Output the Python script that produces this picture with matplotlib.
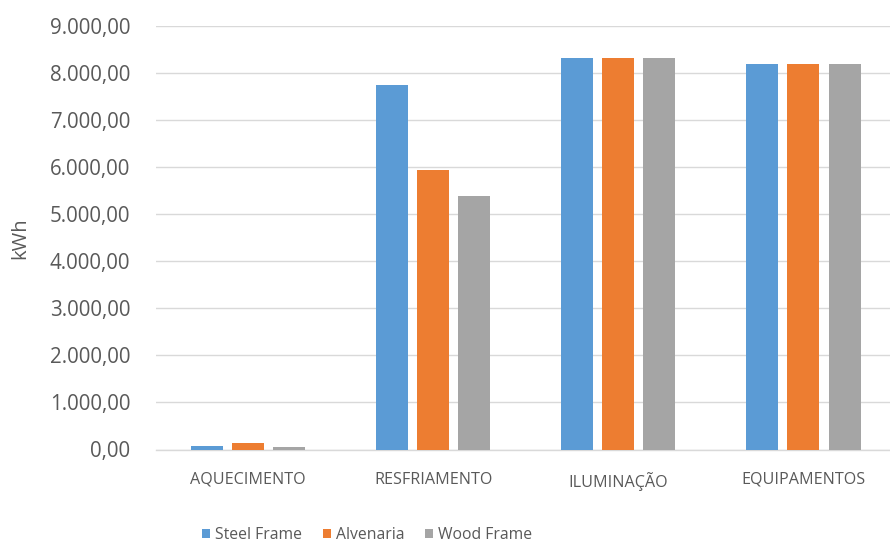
import matplotlib
matplotlib.use("Agg")
import matplotlib.pyplot as plt
import numpy as np
from matplotlib.ticker import FuncFormatter

categories = ["AQUECIMENTO", "RESFRIAMENTO", "ILUMINAÇÃO", "EQUIPAMENTOS"]
series_names = ["Steel Frame", "Alvenaria", "Wood Frame"]
steel_frame = [80, 7750, 8310, 8190]
alvenaria = [130, 5940, 8310, 8190]
wood_frame = [50, 5380, 8310, 8190]
colors = ["#5B9BD5", "#ED7D31", "#A5A5A5"]
y_ticks = [0, 1000, 2000, 3000, 4000, 5000, 6000, 7000, 8000, 9000]

plt.rcParams['font.family'] = ['Open Sans', 'DejaVu Sans']
txt = "#595959"

W, H = 890, 542
fig = plt.figure(figsize=(W / 100, H / 100), dpi=100)
left_px, right_px = 155.5, 896
top_px, bot_px = 25.7, 449.5
ax = fig.add_axes([left_px / W, 1 - bot_px / H, (right_px - left_px) / W, (bot_px - top_px) / H])

x = np.arange(len(categories))
bw = 0.173
pitch = 0.222
data = [steel_frame, alvenaria, wood_frame]
for i, (vals, name, c) in enumerate(zip(data, series_names, colors)):
    ax.bar(x + (i - 1) * pitch, vals, width=bw, color=c, label=name, zorder=3)

ax.set_xlim(-0.5, len(categories) - 0.5)
ax.set_ylim(0, 9000)
ax.set_yticks(y_ticks)

def fmt(v, pos):
    s = f"{v:,.2f}"
    return s.replace(",", "X").replace(".", ",").replace("X", ".")

ax.yaxis.set_major_formatter(FuncFormatter(fmt))
ax.grid(axis='y', color='#D9D9D9', linewidth=1.0, zorder=0)
ax.set_axisbelow(True)
for s in ["top", "right", "left"]:
    ax.spines[s].set_visible(False)
ax.spines["bottom"].set_color("#D9D9D9")
ax.spines["bottom"].set_linewidth(1.0)
ax.tick_params(axis='both', length=0)
ax.tick_params(axis='y', labelsize=14.8, labelcolor=txt, pad=18)
ax.set_xticks(x)
ax.set_xticklabels(categories, fontsize=11.6, color=txt)
ax.tick_params(axis='x', pad=16)

fig.text(20 / W, 1 - 238 / H, "kWh", rotation=90, ha='center', va='center',
         fontsize=14.5, color=txt)

leg = fig.legend(loc='center', bbox_to_anchor=(367 / W, 1 - 535 / H), ncol=3,
                 frameon=False, prop={'size': 11.3},
                 labelcolor=txt,
                 handlelength=0.55, handleheight=0.55, handletextpad=0.3,
                 columnspacing=1.3)

fig.savefig("out.png", dpi=100)
